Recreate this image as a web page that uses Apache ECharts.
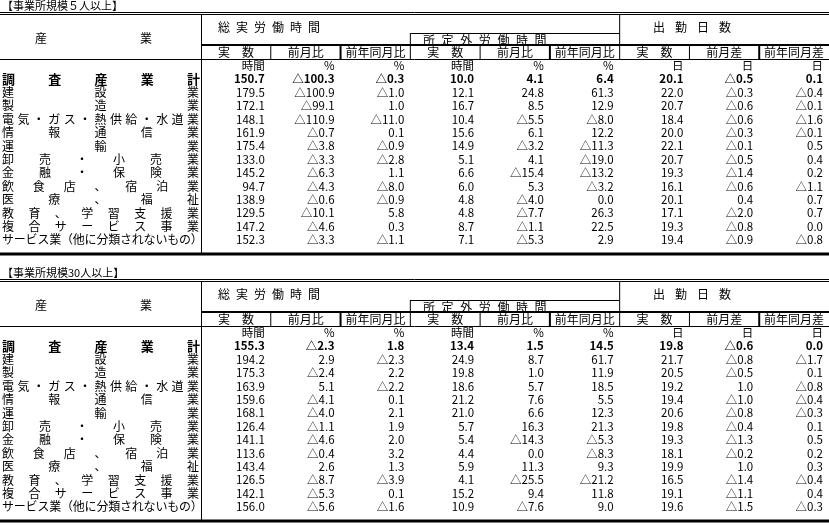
<!DOCTYPE html>
<html>
<head>
<meta charset="utf-8">
<script src="https://cdn.jsdelivr.net/npm/echarts@6/dist/echarts.min.js"></script>
<style>
html, body { margin: 0; padding: 0; background: #fff; }
#chart { width: 829px; height: 525px; }
</style>
</head>
<body>
<div id="chart"></div>
<script>
// 産業
const industries = [
  '調査産業計', '建設業', '製造業', '電気・ガス・熱供給・水道業', '情報通信業', '運輸業',
  '卸売・小売業', '金融・保険業', '飲食店、宿泊業', '医療、福祉', '教育、学習支援業',
  '複合サービス事業', 'サービス業（他に分類されないもの）'
];
// 行ラベルの字配り（均等割り付け用）
const industryText = [
  '調査産業計', '建設業', '製造業', '電気・ガス・熱供給・水道業', '情報通信業', '運輸業',
  '卸売・小売業', '金融・保険業', '飲食店、宿泊業', '医療、福祉', '教育、学習支援業',
  '複合サービス事業', 'サービス業（他に分類されないもの）'
];
const columns = ['総実_実数', '総実_前月比', '総実_前年同月比', '所定外_実数', '所定外_前月比', '所定外_前年同月比', '出勤_実数', '出勤_前月差', '出勤_前年同月差'];
const subHeaders = ['実　数', '前月比', '前年同月比', '実　数', '前月比', '前年同月比', '実　数', '前月差', '前年同月差'];
const units = ['時間', '%', '%', '時間', '%', '%', '日', '日', '日'];
const tableTitles = ['【事業所規模５人以上】', '【事業所規模30人以上】'];

// 事業所規模5人以上（負の値は△で表示）
const size5 = [
  [150.7, -100.3, -0.3, 10.0, 4.1, 6.4, 20.1, -0.5, 0.1],
  [179.5, -100.9, -1.0, 12.1, 24.8, 61.3, 22.0, -0.3, -0.4],
  [172.1, -99.1, 1.0, 16.7, 8.5, 12.9, 20.7, -0.6, -0.1],
  [148.1, -110.9, -11.0, 10.4, -5.5, -8.0, 18.4, -0.6, -1.6],
  [161.9, -0.7, 0.1, 15.6, 6.1, 12.2, 20.0, -0.3, -0.1],
  [175.4, -3.8, -0.9, 14.9, -3.2, -11.3, 22.1, -0.1, 0.5],
  [133.0, -3.3, -2.8, 5.1, 4.1, -19.0, 20.7, -0.5, 0.4],
  [145.2, -6.3, 1.1, 6.6, -15.4, -13.2, 19.3, -1.4, 0.2],
  [94.7, -4.3, -8.0, 6.0, 5.3, -3.2, 16.1, -0.6, -1.1],
  [138.9, -0.6, -0.9, 4.8, -4.0, 0.0, 20.1, 0.4, 0.7],
  [129.5, -10.1, 5.8, 4.8, -7.7, 26.3, 17.1, -2.0, 0.7],
  [147.2, -4.6, 0.3, 8.7, -1.1, 22.5, 19.3, -0.8, 0.0],
  [152.3, -3.3, -1.1, 7.1, -5.3, 2.9, 19.4, -0.9, -0.8]
];
// 事業所規模30人以上
const size30 = [
  [155.3, -2.3, 1.8, 13.4, 1.5, 14.5, 19.8, -0.6, 0.0],
  [194.2, 2.9, -2.3, 24.9, 8.7, 61.7, 21.7, -0.8, -1.7],
  [175.3, -2.4, 2.2, 19.8, 1.0, 11.9, 20.5, -0.5, 0.1],
  [163.9, 5.1, -2.2, 18.6, 5.7, 18.5, 19.2, 1.0, -0.8],
  [159.6, -4.1, 0.1, 21.2, 7.6, 5.5, 19.4, -1.0, -0.4],
  [168.1, -4.0, 2.1, 21.0, 6.6, 12.3, 20.6, -0.8, -0.3],
  [126.4, -1.1, 1.9, 5.7, 16.3, 21.3, 19.8, -0.4, 0.1],
  [141.1, -4.6, 2.0, 5.4, -14.3, -5.3, 19.3, -1.3, 0.5],
  [113.6, -0.4, 3.2, 4.4, 0.0, -8.3, 18.1, -0.2, 0.2],
  [143.4, 2.6, 1.3, 5.9, 11.3, 9.3, 19.9, 1.0, 0.3],
  [126.5, -8.7, -3.9, 4.1, -25.5, -21.2, 16.5, -1.4, -0.4],
  [142.1, -5.3, 0.1, 15.2, 9.4, 11.8, 19.1, -1.1, 0.4],
  [156.0, -5.6, -1.6, 10.9, -7.6, 9.0, 19.6, -1.5, -0.3]
];

const FONT = '"Noto Sans CJK JP", "Noto Sans CJK SC", sans-serif';
const rowKeys = ['単位'].concat(industries);

function fmt(v) {
  return v < 0 ? '△' + (-v).toFixed(1) : v.toFixed(1);
}

const chart = echarts.init(document.getElementById('chart'));

// 表の線と見出し
const LEFT = 201, W = 829;
const colW = (W - LEFT) / 9;
function bx(k) { return LEFT + k * colW; }

function hline(x1, x2, y, lw) {
  return { type: 'line', shape: { x1: x1, y1: y, x2: x2, y2: y }, style: { stroke: '#000', lineWidth: lw } };
}
function vline(x, y1, y2, lw) {
  return { type: 'line', shape: { x1: x, y1: y1, x2: x, y2: y2 }, style: { stroke: '#000', lineWidth: lw } };
}
function txt(s, x, y, opt) {
  return {
    type: 'text', x: x, y: y,
    style: Object.assign({ text: s, font: '12px ' + FONT, fill: '#000', align: 'left', verticalAlign: 'middle' }, opt || {})
  };
}
function spaced(s, x, y, step) {
  return s.split('').map((c, i) => txt(c, x + i * step, y));
}

function header(t) {
  const o = t * 267;
  let g = [];
  g.push(txt(tableTitles[t], 2, o + 6, { font: '11px ' + FONT }));
  g.push(hline(0, W, o + 12.5, 1));
  g.push(hline(0, W, o + 14.5, 1.2));
  g.push(vline(LEFT + 0.5, o + 15, o + 253, 1));
  g = g.concat(spaced('総実労働時間', 218, o + 27, 18));
  g.push(txt('産', 35, o + 38));
  g.push(txt('業', 140, o + 38));
  g.push(hline(bx(3), bx(6), o + 33.5, 1));
  g.push(vline(bx(3), o + 33, o + 59, 1));
  g = g.concat(spaced('所定外労働時間', 423, o + 40, 18.6));
  g.push(vline(bx(6), o + 15, o + 59, 1));
  g = g.concat(spaced('出勤日数', 653, o + 27, 22));
  g.push(hline(LEFT, W, o + 45, 2));
  [1, 2, 4, 5, 7, 8].forEach(k => {
    g.push(vline(bx(k), o + 45, o + 59, k % 3 === 2 ? 2 : 1));
  });
  subHeaders.forEach((s, k) => {
    g.push(txt(s, bx(k) + colW / 2, o + 52, { align: 'center' }));
  });
  g.push(hline(0, W, o + 59.5, 1));
  g.push(hline(0, W, o + 254, 3));
  return g;
}

// 数値セル（単位行 + 13行）
function cellItems(values) {
  const items = [];
  units.forEach((u, c) => items.push({ col: c, row: 0, text: u, bold: false }));
  values.forEach((r, i) => r.forEach((v, c) => items.push({ col: c, row: i + 1, text: fmt(v), bold: i === 0 })));
  return items;
}

function cellSeries(t, values) {
  const items = cellItems(values);
  return {
    type: 'custom',
    xAxisIndex: t, yAxisIndex: t,
    data: items.map(d => [d.col, d.row]),
    renderItem: function (params, api) {
      const d = items[params.dataIndex];
      const p = api.coord([api.value(0), api.value(1)]);
      const w = api.size([1, 1])[0];
      return {
        type: 'text', x: p[0] + w / 2 - 6, y: p[1],
        style: {
          text: d.text, fill: '#000', align: 'right', verticalAlign: 'middle',
          font: (d.bold ? 'bold ' : '') + '11.5px ' + FONT
        }
      };
    }
  };
}

function labelSeries(t) {
  return {
    type: 'custom',
    xAxisIndex: t, yAxisIndex: t,
    data: industryText.map((s, i) => [0, i + 1]),
    renderItem: function (params, api) {
      const s = industryText[params.dataIndex].split('');
      const p = api.coord([0, api.value(1)]);
      const w = api.size([1, 1])[0];
      const x0 = p[0] - w / 2 - 199, x1 = p[0] - w / 2 - 2;
      const cw = 12;
      const step = s.length > 1 ? Math.max(11.8, (x1 - x0 - cw) / (s.length - 1)) : 0;
      const bold = params.dataIndex === 0;
      return {
        type: 'group',
        children: s.map((c, i) => ({
          type: 'text', x: x0 + i * step, y: p[1],
          style: {
            text: c, fill: '#000', align: 'left', verticalAlign: 'middle',
            font: (bold ? 'bold 13px ' : '12px ') + FONT
          }
        }))
      };
    }
  };
}

const option = {
  backgroundColor: '#fff',
  animation: false,
  grid: [
    { left: LEFT, right: 0, top: 59, height: 14 * 13.4 },
    { left: LEFT, right: 0, top: 59 + 267, height: 14 * 13.4 }
  ],
  xAxis: [0, 1].map(i => ({ type: 'category', gridIndex: i, data: columns, show: false })),
  yAxis: [0, 1].map(i => ({ type: 'category', gridIndex: i, data: rowKeys, inverse: true, show: false })),
  graphic: { elements: header(0).concat(header(1)) },
  series: [cellSeries(0, size5), labelSeries(0), cellSeries(1, size30), labelSeries(1)]
};

chart.setOption(option);
</script>
</body>
</html>
